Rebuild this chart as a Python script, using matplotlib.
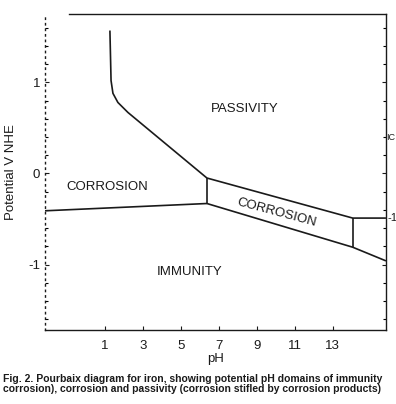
import matplotlib.pyplot as plt

# boundary lines of the Pourbaix diagram (pH, potential V NHE)
fe3_ph = [1.26, 1.32, 1.42, 1.68, 2.21, 6.37]
fe3_E = [1.57, 1.02, 0.88, 0.78, 0.67, -0.05]

fe2_ph = [-2.16, 6.37]
fe2_E = [-0.41, -0.33]

mid_ph = [6.37, 6.37]
mid_E = [-0.05, -0.33]

upper_ph = [6.37, 14.05, 15.8]
upper_E = [-0.05, -0.49, -0.49]

lower_ph = [6.37, 14.05, 15.8]
lower_E = [-0.33, -0.81, -0.96]

right_ph = [14.05, 14.05]
right_E = [-0.49, -0.81]

x_ticks = [1, 3, 5, 7, 9, 11, 13]
x_labels = ["1", "3", "5", "7", "9", "11", "13"]
y_ticks = [-1, 0, 1]
y_labels = ["-1", "0", "1"]

regions = ["PASSIVITY", "CORROSION", "CORROSION", "IMMUNITY"]
region_ph = [8.37, 1.1, 10.05, 5.47]
region_E = [0.71, -0.15, -0.43, -1.08]
region_rot = [0, 0, -15, 0]

caption = ("Fig. 2. Pourbaix diagram for iron, showing potential pH domains of immunity\n"
           "corrosion), corrosion and passivity (corrosion stifled by corrosion products)")

plt.rcParams['font.family'] = ['Liberation Sans', 'DejaVu Sans']
ink = "#1a1a1a"

fig = plt.figure(figsize=(3.96, 4.04), dpi=100)
ax = fig.add_axes([0.1136, 0.183, 0.861, 0.782])

for xs, ys in [(fe3_ph, fe3_E), (fe2_ph, fe2_E), (mid_ph, mid_E),
               (upper_ph, upper_E), (lower_ph, lower_E), (right_ph, right_E)]:
    ax.plot(xs, ys, color=ink, lw=1.2, solid_capstyle="butt")

for txt, x, y, r in zip(regions, region_ph, region_E, region_rot):
    ax.text(x, y, txt, ha="center", va="center", rotation=r,
            fontsize=9.5, color=ink, rotation_mode="anchor")

ax.set_xlim(-2.16, 15.8)
ax.set_ylim(-1.72, 1.75)
ax.set_xticks(x_ticks)
ax.set_xticklabels(x_labels)
ax.set_yticks(y_ticks)
ax.set_yticklabels(y_labels)
ax.set_yticks([-1.6, -1.4, -1.2, -0.8, -0.6, -0.4, -0.2, 0.2, 0.4, 0.6, 0.8, 1.2, 1.4, 1.6], minor=True)
ax.tick_params(direction="in", length=3, width=0.8, labelsize=9.5, colors=ink,
               right=True)
ax.tick_params(axis="x", pad=7)
ax.tick_params(which="minor", direction="in", length=2, width=0.8, right=True)
for s in ax.spines.values():
    s.set_color(ink)
    s.set_linewidth(1.0)
ax.spines["left"].set_linestyle((0, (1, 3)))
# the top border only starts a little right of the left axis
ax.spines["top"].set_visible(False)
ax.plot([0.07, 1.0], [1.0, 1.0], transform=ax.transAxes, color=ink, lw=1.0,
        clip_on=False)

ax.set_xlabel("pH", fontsize=9.5, color=ink, labelpad=1)
ax.set_ylabel("Potential V NHE", fontsize=9.5, color=ink, labelpad=8)

# fragments of the neighbouring figure at the right edge
fig.text(0.999, 0.66, "IC", fontsize=6.5, color=ink, va="center", ha="right")
fig.text(0.978, 0.46, "-1", fontsize=8, color=ink, va="center")

fig.text(0.008, 0.05, caption, fontsize=7.5, fontweight="bold", color=ink,
         va="center", linespacing=1.0)

fig.savefig("out.png", dpi=100)
